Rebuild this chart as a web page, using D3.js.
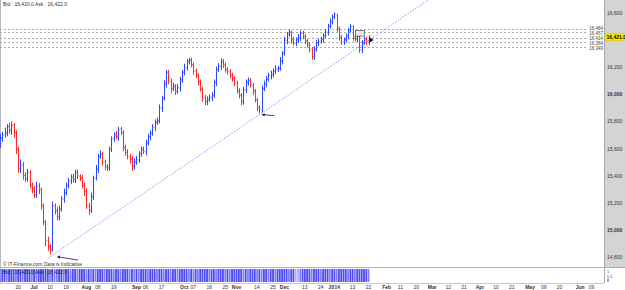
<!DOCTYPE html>
<html lang="en">
<head>
<meta charset="utf-8">
<title>Wall Street - daily bars</title>
<script src="https://d3js.org/d3.v7.min.js"></script>
<style>
  body { margin: 0; background: #fff; }
  svg { display: block; font-family: "Liberation Sans", Arial, sans-serif; }
</style>
</head>
<body>
<svg width="625" height="290"></svg>
<script>
// ---- data ----
var firstDay = "2013-06-10";

var opens = [
  15640,15675,15705,15715,15765,15735,15775,15715,15590,15455,
  15475,15405,15375,15425,15325,15305,15255,15325,15295,15175,
  15055,14925,14875,14860,15175,15145,15095,15155,15225,15275,
  15325,15365,15385,15375,15425,15395,15385,15325,15285,15175,
  15145,15245,15385,15445,15545,15555,15505,15465,15455,15595,
  15675,15705,15685,15745,15715,15605,15575,15535,15525,15465,
  15505,15515,15565,15595,15575,15645,15685,15715,15755,15795,
  15805,15895,15975,16075,16165,16095,16045,16055,16025,16045,
  16105,16165,16195,16245,16255,16215,16175,16135,16095,16035,
  15975,15945,15965,15975,15995,16085,16185,16205,16245,16215,
  16185,16165,16145,16115,16085,16025,15995,15945,16035,16085,
  16105,16065,16025,15955,15905,15885,16045,16075,16115,16135,
  16145,16175,16185,16195,16245,16305,16395,16445,16455,16405,
  16375,16405,16415,16455,16425,16395,16365,16335,16275,16335,
  16375,16395,16405,16435,16455,16505,16535,16575,16585,16485,
  16425,16385,16405,16425,16475,16495,16415,16405,16435,16325,16385,16405,16385
];
var highs = [
  15710,15725,15755,15780,15790,15800,15790,15735,15615,15520,
  15500,15425,15450,15440,15350,15325,15355,15345,15310,15195,
  15075,14950,14895,15210,15195,15170,15180,15250,15305,15350,
  15385,15410,15415,15445,15445,15410,15405,15350,15305,15200,
  15275,15400,15480,15560,15585,15575,15520,15485,15615,15690,
  15720,15730,15760,15760,15735,15630,15595,15560,15545,15530,
  15545,15580,15615,15615,15665,15710,15735,15780,15815,15830,
  15925,15990,16105,16180,16180,16115,16085,16075,16075,16130,
  16180,16225,16260,16270,16270,16235,16190,16155,16110,16055,
  15995,15985,16000,16015,16110,16205,16230,16265,16260,16235,
  16200,16185,16160,16135,16100,16045,16010,16055,16110,16125,
  16120,16085,16040,15975,15920,16065,16100,16135,16160,16175,
  16190,16215,16210,16275,16320,16425,16460,16480,16470,16425,
  16420,16445,16470,16470,16445,16410,16385,16350,16355,16400,
  16410,16425,16450,16480,16520,16560,16590,16605,16595,16500,
  16440,16420,16450,16490,16520,16510,16435,16450,16450,16400,16425,16425,16436
];
var lows = [
  15605,15650,15680,15690,15710,15700,15680,15560,15420,15420,
  15370,15355,15355,15305,15270,15235,15235,15265,15150,15035,
  14880,14845,14820,14840,15115,15070,15070,15135,15200,15255,
  15305,15340,15350,15345,15375,15360,15305,15250,15155,15110,
  15125,15220,15365,15420,15525,15475,15440,15435,15435,15575,
  15650,15670,15660,15700,15580,15545,15520,15490,15435,15445,
  15480,15495,15540,15560,15550,15625,15660,15695,15730,15775,
  15785,15870,15955,16050,16075,16010,16025,15995,16005,16020,
  16085,16140,16175,16220,16200,16145,16120,16065,16020,15945,
  15920,15920,15945,15950,15975,16060,16165,16180,16195,16160,
  16145,16120,16095,16060,16005,15970,15920,15925,16010,16065,
  16050,15995,15940,15875,15860,15865,16025,16050,16095,16110,
  16125,16150,16165,16175,16220,16285,16370,16425,16375,16360,
  16355,16380,16395,16405,16370,16345,16310,16255,16255,16315,
  16355,16375,16380,16415,16435,16485,16515,16555,16460,16395,
  16365,16365,16385,16405,16455,16395,16390,16385,16305,16305,16365,16365,16365
];
var closes = [
  15680,15700,15720,15760,15740,15770,15720,15600,15450,15480,
  15400,15380,15420,15330,15300,15260,15320,15300,15180,15060,
  14920,14880,14850,15180,15140,15100,15150,15230,15270,15330,
  15360,15390,15370,15420,15400,15380,15330,15280,15180,15140,
  15250,15380,15450,15540,15560,15500,15470,15460,15590,15670,
  15700,15690,15740,15720,15610,15570,15540,15520,15470,15500,
  15520,15560,15590,15580,15640,15690,15710,15760,15790,15800,
  15900,15970,16080,16160,16100,16040,16060,16020,16050,16110,
  16160,16200,16240,16250,16220,16170,16140,16090,16040,15970,
  15950,15960,15980,15990,16090,16180,16210,16240,16220,16180,
  16170,16140,16120,16080,16030,15990,15950,16030,16090,16100,
  16070,16020,15960,15900,15890,16040,16080,16110,16140,16150,
  16170,16190,16190,16250,16300,16400,16440,16460,16400,16380,
  16400,16420,16450,16430,16390,16370,16330,16280,16330,16380,
  16390,16410,16430,16460,16500,16540,16570,16590,16480,16420,
  16390,16400,16430,16470,16500,16420,16410,16430,16330,16380,16400,16390,16421
];
// relative tick volume, 1 = light .. 3 = heavy
var volumes = [
  2,3,3,2,3, 3,3,2,3,3, 2,3,3,3,2, 3,2,3,3,3, 3,3,2,3,2, 2,3,3,2,3,
  3,2,3,3,2, 3,3,3,2,3, 2,3,2,3,3, 3,2,3,3,3, 2,3,3,2,3, 3,3,2,3,2,
  3,2,3,3,3, 2,3,3,3,2, 3,3,2,3,3, 2,3,3,2,3, 3,3,3,2,3, 2,3,2,3,3,
  3,3,2,3,3, 2,3,3,3,2, 3,2,3,3,3, 3,3,2,3,2, 3,3,3,2,3, 2,3,3,2,3,
  3,2,3,3,3, 3,3,2,3,3, 1,1,2,3,3, 3,3,2,3,3, 3,2,3,3,3, 2,3,3,2,3,
  3,3,3,2,3, 3,2,3,3,3, 3,3,2,1,3, 3,2,3
];

var priceTicks = [14800, 15000, 15200, 15400, 15600, 15800, 16000, 16200, 16400, 16600];
var boldPrices = [15000, 16000];
var levels = [16484, 16457, 16414, 16384, 16349];
var lastPrice = 16421.0;
var bid = 16420.0, ask = 16422.0;

var tickDates = ["2013-06-20","2013-07-01","2013-07-10","2013-07-19","2013-08-01","2013-08-08","2013-08-19",
  "2013-09-02","2013-09-06","2013-09-17","2013-10-01","2013-10-07","2013-10-16","2013-10-25","2013-11-01",
  "2013-11-14","2013-11-25","2013-12-02","2013-12-13","2013-12-24","2014-01-01","2014-01-13","2014-01-22",
  "2014-02-03","2014-02-11","2014-02-20","2014-03-03","2014-03-12","2014-03-21","2014-04-01","2014-04-10",
  "2014-04-21","2014-05-01","2014-05-09","2014-05-20","2014-06-02","2014-06-09"];
var tickLabels = ["20","Jul","10","19","Aug","08","19","Sep","06","17","Oct","07","16","25","Nov",
  "14","25","Dec","13","24","2014","13","22","Feb","11","20","Mar","12","21","Apr","10",
  "21","May","09","20","Jun","09"];
var majorLabels = ["Jul","Aug","Sep","Oct","Nov","Dec","2014","Feb","Mar","Apr","May","Jun"];

// trend line through the July low and the November low
var trendDates = ["2013-07-09", "2013-11-15"];
var trendPrices = [14790, 15850];
// little arrows pointing at the lows
var noteDates = ["2013-07-15", "2013-11-18"];
var notePrices = [14800, 15850];

// ---- helpers ----
var parse = d3.timeParse("%Y-%m-%d");
var day0 = parse(firstDay);
function isWeekday(d) { return d.getDay() !== 0 && d.getDay() !== 6; }
// position on a weekday-only time line
function wd(d) {
  return d3.timeDay.range(day0, d).filter(isWeekday).length;
}

var bars = closes.map(function(c, i) {
  return { i: i, o: opens[i], h: highs[i], l: lows[i], c: c, v: volumes[i] || 2 };
});

// ---- layout ----
var W = 625, H = 290;
var plotR = 604, plotTop = 0, plotBot = 267;
var volTop = 269, volBot = 282;

var svg = d3.select("svg");

var x = d3.scaleLinear().domain([0, 265.5]).range([0, plotR]);
var y = d3.scaleLinear().domain([14800, 16600]).range([257, 13]);
var step = x(1) - x(0);

svg.append("defs").append("clipPath").attr("id", "plot")
  .append("rect").attr("x", 0).attr("y", plotTop).attr("width", plotR).attr("height", plotBot - plotTop);

// right price strip
svg.append("rect").attr("x", plotR).attr("y", 0).attr("width", W - plotR).attr("height", plotBot)
  .attr("fill", "#d4d4d4");
svg.append("line").attr("x1", plotR + 0.5).attr("x2", plotR + 0.5).attr("y1", 0).attr("y2", volBot + 1)
  .attr("stroke", "#a8a8a8");
svg.append("line").attr("x1", 0.5).attr("x2", 0.5).attr("y1", 0).attr("y2", volBot + 1)
  .attr("stroke", "#b8b8b8");
svg.append("line").attr("x1", 0).attr("x2", W).attr("y1", plotBot + 0.5).attr("y2", plotBot + 0.5)
  .attr("stroke", "#b0b0b0");
svg.append("line").attr("x1", 0).attr("x2", plotR).attr("y1", volBot + 1.5).attr("y2", volBot + 1.5)
  .attr("stroke", "#c8c8c8");

var plot = svg.append("g").attr("clip-path", "url(#plot)");

// horizontal level lines
plot.selectAll(".lvl").data(levels).enter().append("line")
  .attr("x1", 0).attr("x2", 588)
  .attr("y1", function(d) { return Math.round(y(d)) + 0.5; })
  .attr("y2", function(d) { return Math.round(y(d)) + 0.5; })
  .attr("stroke", "#aaaaaa").attr("stroke-dasharray", "2,2");

// level labels, pushed apart so they do not overlap
var lvlY = levels.map(function(d) { return y(d); }).sort(d3.ascending);
for (var k = 1; k < lvlY.length; k++) lvlY[k] = Math.max(lvlY[k], lvlY[k - 1] + 5);
var lvlSorted = levels.slice().sort(d3.descending);
svg.selectAll(".lvlTxt").data(lvlSorted).enter().append("text")
  .attr("x", 603).attr("y", function(d, i) { return lvlY[i] + 1.6; })
  .attr("text-anchor", "end").attr("font-size", 4.5).attr("fill", "#444")
  .text(function(d) { return d3.format(",")(d); });

// trend line
var tA = wd(parse(trendDates[0])), tB = wd(parse(trendDates[1]));
var slope = (trendPrices[1] - trendPrices[0]) / (tB - tA);
var tEnd = tA + 260;
plot.append("line")
  .attr("x1", x(tA)).attr("y1", y(trendPrices[0]))
  .attr("x2", x(tEnd)).attr("y2", y(trendPrices[0] + slope * (tEnd - tA)))
  .attr("stroke", "#7f9cff").attr("stroke-width", 1).attr("stroke-dasharray", "1.5,1.5");

// OHLC bars
var up = "#2c48ff", down = "#ff2a2a";
var g = plot.append("g").attr("stroke-width", 1);
bars.forEach(function(b) {
  var cx = Math.round(x(b.i)) + 0.5;
  var col = b.c >= b.o ? up : down;
  g.append("line").attr("x1", cx).attr("x2", cx).attr("y1", y(b.h)).attr("y2", y(b.l)).attr("stroke", col);
  g.append("line").attr("x1", cx - 1).attr("x2", cx).attr("y1", y(b.o)).attr("y2", y(b.o)).attr("stroke", col);
  g.append("line").attr("x1", cx).attr("x2", cx + 1).attr("y1", y(b.c)).attr("y2", y(b.c)).attr("stroke", col);
});

// arrows pointing at the lows
noteDates.forEach(function(d, k) {
  var ax = x(wd(parse(d))), ay = y(notePrices[k]);
  plot.append("line").attr("x1", ax + 2).attr("y1", ay).attr("x2", ax + (k === 0 ? 21 : 13)).attr("y2", ay + (k === 0 ? 3 : 1))
    .attr("stroke", "#222").attr("stroke-width", 0.8);
  plot.append("path").attr("d", "M" + ax + "," + ay + "l3,-1.5l0,3z").attr("fill", "#111");
});

// last-bar marker
var lastX = x(bars.length - 1);
plot.append("rect").attr("x", lastX - 13).attr("y", y(16470)).attr("width", 9).attr("height", 5.5)
  .attr("fill", "#e8e8e8").attr("stroke", "#333").attr("stroke-width", 0.6);
plot.append("path").attr("d", "M" + (lastX + 1) + "," + (y(16400) - 2.5) + "l4,2.5l-4,2.5z").attr("fill", "#000");

// price axis labels (the one under the current price box is hidden, as in the original)
var shownTicks = priceTicks.filter(function(d) { return Math.abs(y(d) - y(lastPrice)) > 6; });
svg.selectAll(".yl").data(shownTicks).enter().append("text")
  .attr("x", 607).attr("y", function(d) { return y(d) + 2; })
  .attr("font-size", 5)
  .attr("font-weight", function(d) { return boldPrices.indexOf(d) >= 0 ? "bold" : "normal"; })
  .attr("fill", "#333")
  .text(function(d) { return d3.format(",")(d); });

// current price box
svg.append("rect").attr("x", 605).attr("y", y(lastPrice) - 4).attr("width", 19).attr("height", 7.5)
  .attr("fill", "#ffe600").attr("stroke", "#d8c000").attr("stroke-width", 0.5);
svg.append("text").attr("x", 606.5).attr("y", y(lastPrice) + 1.8).attr("font-size", 5)
  .attr("font-weight", "bold").attr("fill", "#000").text(d3.format(",.1f")(lastPrice));

// header / footer text
svg.append("text").attr("x", 3).attr("y", 6).attr("font-size", 5).attr("fill", "#333")
  .text("Bid : " + d3.format(",.1f")(bid) + " Ask : " + d3.format(",.1f")(ask));
svg.append("text").attr("x", 3).attr("y", 266).attr("font-size", 5).attr("fill", "#333")
  .text("\u00a9 IT-Finance.com  Data is Indicative");

// volume panel
var vcol = d3.scaleLinear().domain([1, 3]).range(["#b4b4ff", "#4c4cf2"]);
svg.append("g").selectAll("rect").data(bars).enter().append("rect")
  .attr("x", function(d) { return x(d.i) - step * 0.4; })
  .attr("width", step * 0.8)
  .attr("y", volTop).attr("height", volBot - volTop)
  .attr("fill", function(d) { return vcol(d.v); });
svg.append("text").attr("x", 3).attr("y", 274).attr("font-size", 5).attr("fill", "#1a1a4a")
  .text("Bid : " + d3.format(",.1f")(bid) + " Ask : " + d3.format(",.1f")(ask));
svg.append("text").attr("x", 607).attr("y", 273).attr("font-size", 4).attr("fill", "#555").text("1");
svg.append("text").attr("x", 607).attr("y", 278).attr("font-size", 4).attr("fill", "#555").text("0.5");
svg.append("rect").attr("x", 607).attr("y", 279).attr("width", 2).attr("height", 2.5).attr("fill", "#8080ff");

// date axis
svg.append("g").selectAll("text").data(tickDates).enter().append("text")
  .attr("x", function(d) { return x(wd(parse(d))); })
  .attr("y", 288.5)
  .attr("text-anchor", "middle")
  .attr("font-size", 5)
  .attr("font-weight", function(d, i) { return majorLabels.indexOf(tickLabels[i]) >= 0 ? "bold" : "normal"; })
  .attr("fill", "#333")
  .text(function(d, i) { return tickLabels[i]; });
</script>
</body>
</html>
